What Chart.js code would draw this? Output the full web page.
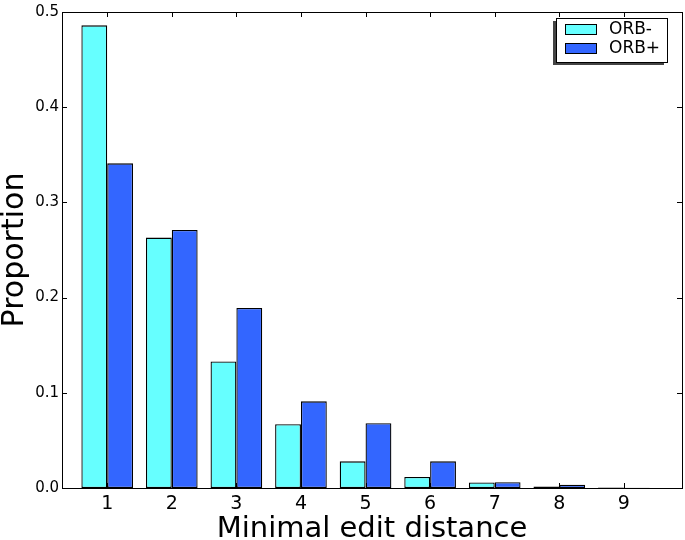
<!DOCTYPE html>
<html>
<head>
<meta charset="utf-8">
<script src="https://cdn.jsdelivr.net/npm/chart.js@4/dist/chart.umd.min.js"></script>
<style>
  html, body { margin: 0; padding: 0; background: #fff; }
  #wrap { width: 685px; height: 540px; }
</style>
</head>
<body>
<div id="wrap"><canvas id="chart"></canvas></div>
<script>
const distances = [1, 2, 3, 4, 5, 6, 7, 8, 9];
const orbMinus = [0.486, 0.263, 0.133, 0.067, 0.028, 0.0115, 0.0058, 0.0015, 0.0005];
const orbPlus  = [0.341, 0.271, 0.189, 0.091, 0.068, 0.028, 0.006, 0.0035, 0.0002];
const yTicks = [0.0, 0.1, 0.2, 0.3, 0.4, 0.5];
const seriesNames = ['ORB-', 'ORB+'];
const seriesColors = ['#66ffff', '#3366ff'];

const FONT = "'DejaVu Sans', sans-serif";

// frame, inward ticks on all sides, and the boxed legend with shadow
const framePlugin = {
  id: 'frame',
  afterDraw(chart) {
    const { ctx, chartArea: a, scales } = chart;
    ctx.save();
    ctx.strokeStyle = '#000';
    ctx.lineWidth = 1;
    ctx.strokeRect(a.left + 0.5, a.top + 0.5, a.right - a.left, a.bottom - a.top);
    ctx.beginPath();
    scales.x.ticks.forEach(t => {
      const x = Math.round(scales.x.getPixelForValue(t.value)) + 0.5;
      ctx.moveTo(x, a.bottom); ctx.lineTo(x, a.bottom - 5);
      ctx.moveTo(x, a.top); ctx.lineTo(x, a.top + 5);
    });
    scales.y.ticks.forEach(t => {
      const y = Math.round(scales.y.getPixelForValue(t.value)) + 0.5;
      ctx.moveTo(a.left, y); ctx.lineTo(a.left + 5, y);
      ctx.moveTo(a.right, y); ctx.lineTo(a.right - 5, y);
    });
    ctx.stroke();

    // legend
    const lx = 556, ly = 18, lw = 111, lh = 44;
    ctx.fillStyle = '#444';
    ctx.fillRect(lx - 3, ly + 3, lw, lh);
    ctx.fillStyle = '#fff';
    ctx.fillRect(lx, ly, lw, lh);
    ctx.strokeStyle = '#000';
    ctx.strokeRect(lx + 0.5, ly + 0.5, lw, lh);
    ctx.font = '17px ' + FONT;
    ctx.textBaseline = 'middle';
    chart.data.datasets.forEach((ds, i) => {
      const cy = ly + 11 + i * 19;
      ctx.fillStyle = ds.backgroundColor;
      ctx.fillRect(565, cy - 5, 31, 10);
      ctx.strokeRect(565.5, cy - 4.5, 31, 10);
      ctx.fillStyle = '#000';
      ctx.fillText(ds.label, 609, cy + 1);
    });
    ctx.restore();
  }
};

const barStyle = {
  borderColor: '#000',
  borderWidth: 1.3,
  borderSkipped: false,
  categoryPercentage: 0.8,
  barPercentage: 1.0
};

new Chart(document.getElementById('chart'), {
  type: 'bar',
  data: {
    datasets: [
      Object.assign({
        label: seriesNames[0],
        data: distances.map((d, i) => ({ x: d, y: orbMinus[i] })),
        backgroundColor: seriesColors[0]
      }, barStyle),
      Object.assign({
        label: seriesNames[1],
        data: distances.map((d, i) => ({ x: d, y: orbPlus[i] })),
        backgroundColor: seriesColors[1]
      }, barStyle)
    ]
  },
  options: {
    responsive: true,
    maintainAspectRatio: false,
    animation: false,
    layout: { padding: { top: 9, right: 3, left: 0, bottom: 0 } },
    plugins: { legend: { display: false }, tooltip: { enabled: false } },
    scales: {
      x: {
        type: 'linear',
        offset: false,
        min: 0.3,
        max: 9.9,
        grid: { display: false, drawTicks: false, offset: false },
        border: { display: false },
        afterBuildTicks: axis => { axis.ticks = distances.map(v => ({ value: v })); },
        afterFit: axis => { axis.height = 52; },
        ticks: {
          color: '#000',
          padding: 5,
          font: { family: FONT, size: 19 },
          callback: v => String(v)
        },
        title: {
          display: true,
          text: 'Minimal edit distance',
          color: '#000',
          padding: { top: 0, bottom: -4 },
          font: { family: FONT, size: 29, lineHeight: 1 }
        }
      },
      y: {
        min: 0,
        max: 0.5,
        grid: { display: false, drawTicks: false },
        border: { display: false },
        afterBuildTicks: axis => { axis.ticks = yTicks.map(v => ({ value: v })); },
        afterFit: axis => { axis.width = 62; },
        ticks: {
          color: '#000',
          padding: 3,
          font: { family: FONT, size: 15 },
          callback: v => Number(v).toFixed(1)
        },
        title: {
          display: true,
          text: 'Proportion',
          color: '#000',
          padding: 0,
          font: { family: FONT, size: 30, lineHeight: 1 }
        }
      }
    }
  },
  plugins: [framePlugin]
});
</script>
</body>
</html>
